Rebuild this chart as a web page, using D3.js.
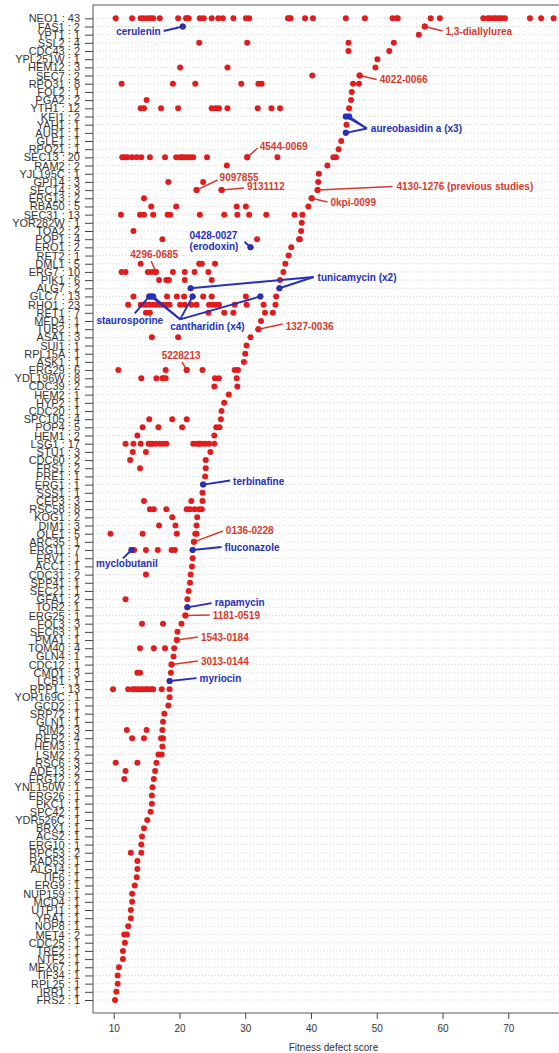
<!DOCTYPE html>
<meta charset="utf-8">
<head>
  <script src="https://d3js.org/d3.v7.min.js"></script>
  <style>
    body { margin: 0; background: #fff; }
    text { font-family: "Liberation Sans", Arial, sans-serif; }
  </style>
</head>
<body>
<div id="dot_chart"></div>
<script>

// genes in plotting order (top to bottom) and number of hits shown in the tick label
var genes = ["NEO1","FAS1","YPT1","SSL2","CDC43","YPL251W","HEM12","SEC7","RPO31","FOL2",
  "PGA2","YTH1","KEI1","YAH1","AUR1","GLE1","RPO21","SEC13","RAM2","YJL195C",
  "GPI14","SEC14","ERG13","RBA50","SEC31","YOR282W","TOA2","POP1","ERO1","RET2",
  "DML1","ERG7","PIK1","ALG7","GLC7","RHO1","RET1","MED4","TUB2","ASA1",
  "SUI1","RPL15A","ASK1","ERG29","YDL196W","CDC39","HEM2","HYP2","CDC20","SPC105",
  "POP4","HEM1","LSG1","STU1","CDC60","FRS1","PRE1","ERG1","SSS1","CEP3",
  "RSC58","KOG1","DIM1","OLE1","ARC35","ERG11","ERV1","ACC1","CDC31","SPP41",
  "SEC21","GFA1","TOR2","ERG25","FOL3","SEC63","PMA1","TOM40","GLN4","CDC12",
  "CMD1","LCB1","RPP1","YOR169C","GCD2","SRP72","GLN1","RIM2","RER2","HEM3",
  "LSM2","RSC6","ADE13","ERG12","YNL150W","ERG26","PKC1","SPC42","YDR526C","BRX1",
  "ACS2","ERG10","RPC53","RAD53","ALG14","TIF6","ERG9","NUP159","MCD4","UTP11",
  "YRA1","NOP8","MET4","CDC25","TRE2","NTF2","MEX67","TIF34","RPL25","IRR1","FRS2"];

var counts = [43,2,1,4,2,1,3,2,8,1,
  2,12,2,1,1,1,1,20,2,1,
  3,3,2,5,13,1,2,4,2,1,
  5,10,6,2,13,23,7,1,1,3,
  1,1,1,6,8,2,1,1,1,4,
  5,2,17,3,2,2,1,1,1,3,
  8,2,3,5,1,7,1,1,2,1,
  1,2,1,1,3,1,1,4,1,1,
  3,1,13,1,1,1,1,3,4,1,
  2,3,2,2,1,1,1,1,1,1,
  1,1,2,1,1,1,1,1,1,1,
  1,1,2,1,1,1,1,1,1,1,1];

// fitness defect scores of every compound hitting each gene (same order as genes)
var scores = [
  [10.3,12.8,14.1,14.6,15.2,15.6,16.0,17.0,19.8,21.0,21.1,21.4,23.1,23.7,24.9,25.9,26.6,28.2,30.1,30.6,
   36.5,36.7,36.9,39.1,40.3,45.3,48.2,52.4,53.0,53.2,58.2,59.6,66.2,66.9,67.3,67.8,68.1,68.6,69.0,69.5,73.3,75.0,76.9],
  [20.5,57.3],
  [56.4],
  [23.0,30.3,45.7,52.6],
  [45.7,51.9],
  [50.1],
  [20.1,27.3,49.8],
  [40.2,47.4],
  [11.2,19.0,22.4,29.4,32.0,32.5,46.4,47.3],
  [46.2],
  [15.0,46.1],
  [14.1,14.6,17.2,19.8,24.9,25.5,26.0,27.3,31.9,34.0,35.3,45.8],
  [45.3,45.8],
  [45.4],
  [45.3],
  [44.6],
  [44.2],
  [11.3,11.7,12.1,12.8,13.5,14.2,15.5,17.8,19.5,20.1,20.4,20.7,21.2,21.6,22.1,24.2,30.3,34.9,43.4,43.8],
  [27.2,42.5],
  [41.2],
  [18.3,23.6,41.1],
  [22.6,26.4,41.0],
  [14.6,40.1],
  [15.7,19.5,28.7,30.1,39.6],
  [11.1,14.0,14.6,16.0,18.2,18.6,23.1,26.8,28.8,30.6,33.2,37.5,38.7],
  [38.6],
  [13.0,38.5],
  [17.4,31.8,38.2,38.3],
  [30.8,37.0],
  [36.6],
  [14.1,23.0,23.4,25.4,36.1],
  [11.2,11.8,15.2,15.8,16.4,19.0,20.8,22.3,24.4,35.8],
  [16.9,18.0,18.4,20.8,24.9,35.3],
  [21.7,35.2],
  [13.0,15.4,15.7,16.0,18.1,19.6,20.7,22.0,23.6,24.9,30.1,32.3,34.7],
  [12.2,14.1,14.6,15.0,15.5,16.0,16.5,17.0,17.5,18.1,18.5,20.1,20.8,21.8,22.6,24.5,25.0,25.5,26.0,28.4,30.2,32.8,34.6],
  [14.9,15.5,24.4,26.8,28.2,33.0,34.2],
  [32.4],
  [32.0],
  [15.8,19.8,30.8],
  [30.2],
  [30.0],
  [29.8],
  [10.7,17.9,21.1,23.5,28.4,28.9],
  [14.2,16.5,17.4,17.6,17.9,25.4,26.0,28.7],
  [25.3,28.8],
  [27.5],
  [26.8],
  [26.4],
  [15.4,18.9,21.1,26.3],
  [14.4,16.8,20.4,25.6,26.1],
  [13.6,25.3],
  [11.8,13.0,14.1,15.3,15.6,15.9,16.4,17.0,17.5,18.0,22.1,22.7,23.0,23.3,23.9,24.5,25.3],
  [12.9,14.9,24.7],
  [12.5,24.0],
  [14.0,24.0],
  [23.9],
  [23.6],
  [23.5],
  [14.6,21.8,23.5],
  [15.5,16.1,18.0,21.1,21.6,22.3,23.0,23.4],
  [18.9,22.7],
  [16.9,19.4,22.6],
  [9.5,14.4,19.6,22.4,22.6],
  [22.2],
  [12.7,13.1,14.9,16.7,18.8,19.3,22.0],
  [22.0],
  [21.9],
  [14.9,21.7],
  [21.6],
  [21.4],
  [11.8,21.2],
  [21.2],
  [20.9],
  [14.3,17.5,20.3],
  [19.7],
  [19.6],
  [14.0,16.1,17.8,19.2],
  [19.1],
  [18.8],
  [13.6,14.0,18.7],
  [18.5],
  [9.9,12.2,12.9,13.2,13.6,14.0,14.4,14.9,15.2,15.7,16.0,17.3,18.5],
  [18.5],
  [18.3],
  [17.7],
  [17.5],
  [12.0,15.0,17.4],
  [12.8,14.6,17.2,17.5],
  [17.4],
  [16.8,17.3],
  [10.3,13.6,16.5],
  [11.8,16.3],
  [11.6,16.1],
  [15.9],
  [15.8],
  [15.8],
  [15.6],
  [15.1],
  [14.6],
  [14.3],
  [14.2],
  [12.6,14.2],
  [13.6],
  [13.6],
  [13.5],
  [13.2],
  [12.8],
  [12.8],
  [12.6],
  [12.6],
  [12.2],
  [11.6,12.0],
  [11.7],
  [11.4],
  [11.4],
  [10.8],
  [10.6],
  [10.6],
  [10.4],
  [10.2]
];

var xTicks = [10,20,30,40,50,60,70];

// named compounds: hits = [gene, score]; end = [score, row] where the pointer line stops
var compounds = [
  {name:"cerulenin", kind:"known", hits:[["FAS1",20.5]], end:[17.6,1.55], anchor:"end", nudge:[-3,4]},
  {name:"1,3-diallylurea", kind:"new", hits:[["FAS1",57.3]], end:[60.0,1.55], anchor:"start", nudge:[3,4]},
  {name:"4022-0066", kind:"new", hits:[["SEC7",47.4]], end:[50.0,7.48], anchor:"start", nudge:[3,4]},
  {name:"aureobasidin a (x3)", kind:"known", hits:[["KEI1",45.3],["KEI1",45.8],["AUR1",45.3]], end:[48.5,13.47], anchor:"start", nudge:[4,4]},
  {name:"4544-0069", kind:"new", hits:[["SEC13",30.3]], end:[31.9,15.86], anchor:"start", nudge:[2,1.5]},
  {name:"9097855", kind:"new", hits:[["SEC14",22.6]], end:[25.8,19.77], anchor:"start", nudge:[2,0.5]},
  {name:"9131112", kind:"new", hits:[["SEC14",26.4]], end:[29.8,20.75], anchor:"start", nudge:[3,2.3]},
  {name:"4130-1276 (previous studies)", kind:"new", hits:[["SEC14",41.0]], end:[52.4,20.56], anchor:"start", nudge:[4,4]},
  {name:"0kpi-0099", kind:"new", hits:[["ERG13",40.1]], end:[42.5,22.46], anchor:"start", nudge:[3,4]},
  {name:"0428-0027\n(erodoxin)", kind:"known", hits:[["ERO1",30.8]], end:[29.9,27.31], anchor:"start", nudge:[-55,-3]},
  {name:"4296-0685", kind:"new", hits:[["ERG7",16.4]], end:[15.7,29.66], anchor:"middle", nudge:[3,-2.5]},
  {name:"tunicamycin (x2)", kind:"known", hits:[["ALG7",21.7],["ALG7",35.2]], end:[40.4,31.62], anchor:"start", nudge:[4,4]},
  {name:"staurosporine", kind:"known", hits:[["GLC7",15.4]], end:[13.2,36.06], anchor:"middle", nudge:[-5,10.5]},
  {name:"cantharidin (x4)", kind:"known", hits:[["GLC7",15.7],["GLC7",16.0],["GLC7",22.0],["GLC7",32.3]], end:[20.1,36.8], anchor:"start", nudge:[-10,11]},
  {name:"1327-0036", kind:"new", hits:[["TUB2",32.0]], end:[35.7,37.37], anchor:"start", nudge:[3,5.7]},
  {name:"5228213", kind:"new", hits:[["ERG29",21.1]], end:[20.4,42.02], anchor:"middle", nudge:[-1,-3.3]},
  {name:"terbinafine", kind:"known", hits:[["ERG1",23.6]], end:[27.7,56.5], anchor:"start", nudge:[3,4.5]},
  {name:"0136-0228", kind:"new", hits:[["ARC35",22.2]], end:[26.6,62.68], anchor:"start", nudge:[3,2.7]},
  {name:"fluconazole", kind:"known", hits:[["ERG11",22.0]], end:[26.4,64.63], anchor:"start", nudge:[3,3.5]},
  {name:"myclobutanil", kind:"known", hits:[["ERG11",12.7]], end:[11.4,66.01], anchor:"middle", nudge:[4,8.7]},
  {name:"rapamycin", kind:"known", hits:[["TOR2",21.2]], end:[24.9,71.48], anchor:"start", nudge:[3,3]},
  {name:"1181-0519", kind:"new", hits:[["ERG25",20.9]], end:[24.6,72.94], anchor:"start", nudge:[3,3.7]},
  {name:"1543-0184", kind:"new", hits:[["PMA1",19.6]], end:[22.8,75.64], anchor:"start", nudge:[3,3.5]},
  {name:"3013-0144", kind:"new", hits:[["CDC12",18.8]], end:[22.8,78.57], anchor:"start", nudge:[3,3.5]},
  {name:"myriocin", kind:"known", hits:[["LCB1",18.5]], end:[22.6,80.65], anchor:"start", nudge:[3,3.5]}
];

var colors = {dot: "#e01c1c", newText: "#d63a2c", known: "#2630b8"};

// set the dimensions and margins of the graph
var margin = {top: 5, right: 0, bottom: 40, left: 93},
    width = 481,
    height = 1008;

var svg = d3.select("#dot_chart")
  .append("svg")
    .attr("width", 559)
    .attr("height", 1053)
  .append("g")
    .attr("transform", "translate(" + margin.left + "," + margin.top + ")");

var x = d3.scaleLinear()
  .domain([6.85, 80.0])
  .range([0, width]);

var y = d3.scalePoint()
  .domain(genes)
  .range([13.3, 995]);

// fractional row position, for pointer lines that end between rows
function yRow(r) { return y(genes[0]) + r * y.step(); }

// dotted guide line for every gene
svg.append("g")
  .selectAll("line")
  .data(genes)
  .join("line")
    .attr("x1", 0)
    .attr("x2", width)
    .attr("y1", function(d) { return y(d); })
    .attr("y2", function(d) { return y(d); })
    .attr("stroke", "#c4c4c4")
    .attr("stroke-width", 0.8)
    .attr("stroke-dasharray", "1,2.2");

// Y axis with "gene : count" labels
var yAxis = svg.append("g")
  .call(d3.axisLeft(y)
    .tickSize(8)
    .tickSizeOuter(0)
    .tickPadding(5)
    .tickFormat(function(d, i) { return d + " : " + counts[i]; }));
yAxis.select(".domain").remove();
yAxis.selectAll("line").attr("stroke", "#444");
yAxis.selectAll("text")
  .style("font-size", "11px")
  .style("font-family", "'Liberation Sans', Arial, sans-serif")
  .attr("fill", "#333");

// X axis
var xAxis = svg.append("g")
  .attr("transform", "translate(0," + height + ")")
  .call(d3.axisBottom(x).tickValues(xTicks).tickSize(6).tickSizeOuter(0).tickPadding(6));
xAxis.select(".domain").remove();
xAxis.selectAll("line").attr("stroke", "#444");
xAxis.selectAll("text")
  .style("font-size", "10px")
  .style("font-family", "'Liberation Sans', Arial, sans-serif")
  .attr("fill", "#333");

svg.append("text")
  .attr("x", width / 2)
  .attr("y", height + 38)
  .attr("text-anchor", "middle")
  .style("font-size", "10px")
  .attr("fill", "#333")
  .text("Fitness defect score");

// plot frame
svg.append("rect")
  .attr("x", 0)
  .attr("y", 0)
  .attr("width", width)
  .attr("height", height)
  .attr("fill", "none")
  .attr("stroke", "#555")
  .attr("stroke-width", 1);

// all hits as red dots
var points = [];
genes.forEach(function(g, i) {
  scores[i].forEach(function(s) { points.push({gene: g, score: s}); });
});
svg.append("g")
  .selectAll("circle")
  .data(points)
  .join("circle")
    .attr("cx", function(d) { return x(d.score); })
    .attr("cy", function(d) { return y(d.gene); })
    .attr("r", 3)
    .attr("fill", colors.dot);

// pointer lines, highlighted dots and compound names
compounds.forEach(function(c) {
  var col = c.kind == "known" ? colors.known : colors.newText;
  var ex = x(c.end[0]), ey = yRow(c.end[1]);
  var g = svg.append("g");
  c.hits.forEach(function(h) {
    g.append("line")
      .attr("x1", x(h[1])).attr("y1", y(h[0]))
      .attr("x2", ex).attr("y2", ey)
      .attr("stroke", col)
      .attr("stroke-width", c.kind == "known" ? 1.9 : 1.5);
  });
  c.hits.forEach(function(h) {
    g.append("circle")
      .attr("cx", x(h[1])).attr("cy", y(h[0]))
      .attr("r", 3)
      .attr("fill", c.kind == "known" ? colors.known : colors.dot);
  });
  var t = g.append("text")
    .attr("x", ex + c.nudge[0])
    .attr("y", ey + c.nudge[1])
    .attr("text-anchor", c.anchor)
    .style("font-size", "10px")
    .style("font-weight", "bold")
    .attr("fill", col);
  c.name.split("\n").forEach(function(line, k) {
    t.append("tspan")
      .attr("x", ex + c.nudge[0])
      .attr("dy", k == 0 ? 0 : 11.5)
      .text(line);
  });
});

</script>
</body>
